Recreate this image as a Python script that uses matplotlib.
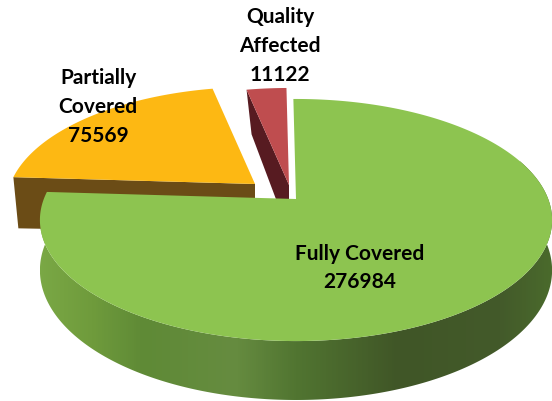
import numpy as np
import matplotlib
matplotlib.use("Agg")
import matplotlib.pyplot as plt
from matplotlib.patches import Polygon
from matplotlib.colors import LinearSegmentedColormap

labels = ["Fully Covered\n276984", "Partially\nCovered\n75569", "Quality\nAffected\n11122"]
values = [276984, 75569, 11122]

plt.rcParams['font.family'] = ['Lato', 'DejaVu Sans']

# perspective of the pie plate, in pixels
A, B, P = 252.2, 117.4, 0.1736
DEPTH = 48.7
START = -0.7
PULLED = 0.97   # pulled out slices sit a bit further back


def project(theta, apex, scale=1.0):
    t = np.radians(theta)
    w = 1 + P * np.cos(t)
    return apex[0] + scale * A * np.sin(t) / w, apex[1] - scale * B * np.cos(t) / w


def wall(theta):
    return DEPTH / (1 + P * np.cos(np.radians(theta)))


def wedge(a, b, apex, scale=1.0):
    th = np.linspace(a, b, 300)
    x, y = project(th, apex, scale)
    return np.vstack([[apex], np.column_stack([x, y])])


def cut_face(theta, apex):
    # inner face of a pulled out slice, from the rim back to the apex
    x, y = project(theta, apex, PULLED)
    d = wall(theta)
    return [(x, y), apex, (apex[0], apex[1] + DEPTH), (x + 5, y + d + 3)]


fig = plt.figure(figsize=(5.52, 4.02), dpi=100)
ax = fig.add_axes([0, 0, 1, 1])

angles = 360 * np.array(values) / sum(values)
g0 = START
g1 = g0 + angles[0]
o1 = g1 + angles[1]
r1 = o1 + angles[2]

apex_g = (296, 200)
apex_o = (255, 185)
apex_r = (289, 186)

ax.add_patch(Polygon(cut_face(g1, apex_o), fc='#6b4c16', ec='none'))
ax.add_patch(Polygon(wedge(g1, o1, apex_o, PULLED), fc='#fdb813', ec='none'))
ax.add_patch(Polygon(cut_face(o1, apex_r), fc='#571b21', ec='none'))
ax.add_patch(Polygon(wedge(o1, r1, apex_r, PULLED), fc='#bf4d4f', ec='none'))

# green side wall with its shading
th = np.linspace(70, 273, 400)
xs, ys = project(th, apex_g)
side = np.vstack([np.column_stack([xs, ys]),
                  np.column_stack([xs, ys + wall(th)])[::-1]])
clip = Polygon(side, fc='none', ec='none', transform=ax.transData)
ax.add_patch(clip)
shade = LinearSegmentedColormap.from_list('side', [
    (0.00, '#7aa845'), (0.10, '#6f9b3c'), (0.20, '#5f8a36'), (0.38, '#668c40'),
    (0.50, '#517531'), (0.70, '#405627'), (0.90, '#435a2a'), (1.00, '#4a6a2c')])
im = ax.imshow(np.linspace(0, 1, 256).reshape(1, -1), cmap=shade, aspect='auto',
               extent=[40, 552, 402, 0])
im.set_clip_path(clip)

ax.add_patch(Polygon(wedge(g0, g1, apex_g), fc='#8dc450', ec='none'))

ax.text(98, 107, labels[1], ha='center', va='center', fontsize=15,
        fontweight='bold', color='black', linespacing=1.55)
ax.text(280, 46, labels[2], ha='center', va='center', fontsize=15,
        fontweight='bold', color='black', linespacing=1.55)
ax.text(360, 268, labels[0], ha='center', va='center', fontsize=15,
        fontweight='bold', color='black', linespacing=1.55)

ax.set_xlim(0, 552)
ax.set_ylim(402, 0)
ax.axis('off')
fig.savefig('out.png', dpi=100)
